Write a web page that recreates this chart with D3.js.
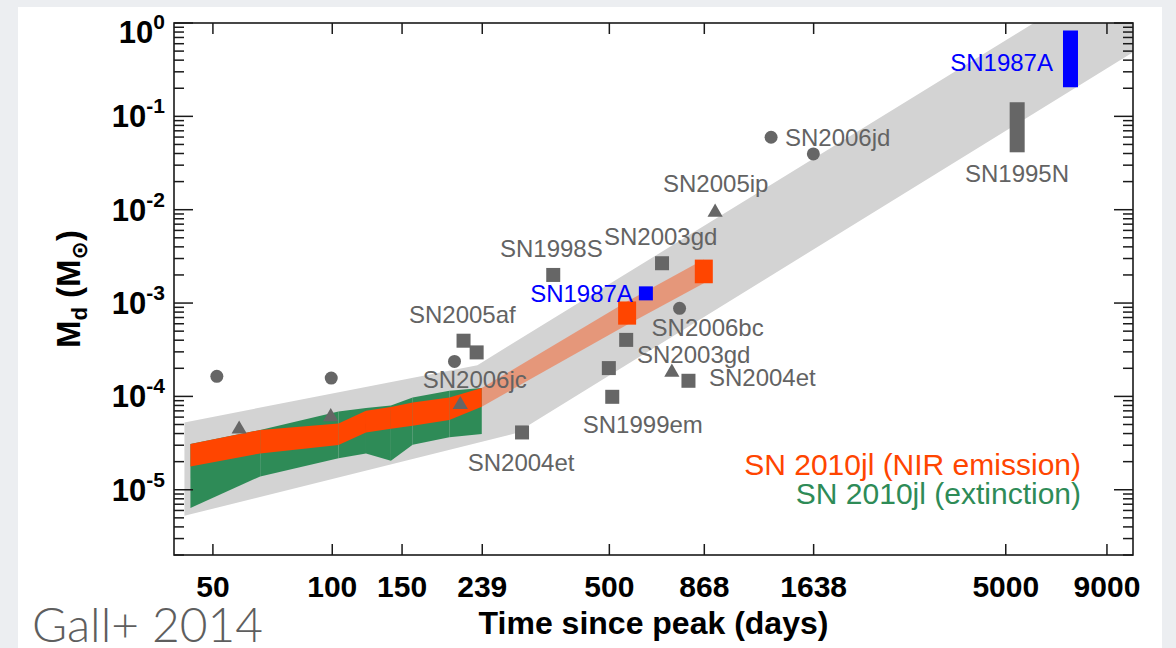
<!DOCTYPE html>
<html>
<head>
<meta charset="utf-8">
<script src="https://cdn.jsdelivr.net/npm/d3@7"></script>
<style>
  html, body { margin: 0; padding: 0; background: #eceef1; }
  svg { display: block; }
</style>
</head>
<body>
<svg id="chart" width="1176" height="648"></svg>
<script>
// ---- data ---------------------------------------------------------------
const tickDays = [50, 100, 150, 239, 500, 868, 1638, 5000, 9000];
const decadeExponents = [-5, -4, -3, -2, -1, 0];

// broad envelope of dust masses (grey band)
const envelopeUpper = [[42.5, 5.26e-5], [233, 2.16e-4], [10500, 4.5]];
const envelopeLower = [[42.5, 5.26e-6], [291, 4.03e-5], [10500, 0.486]];

// SN 2010jl early epochs (days)
const epochs   = [44, 66, 104, 122, 141, 160, 198, 239];
const nirUpper = [3.09e-5, 4.37e-5, 5.14e-5, 7.03e-5, 7.7e-5, 8.62e-5, 9.76e-5, 1.23e-4];
const nirLower = [1.77e-5, 2.45e-5, 3.01e-5, 4.11e-5, 4.5e-5, 4.85e-5, 5.58e-5, 7.76e-5];
const extUpper = [3.09e-5, 4.37e-5, 6.9e-5, 7.51e-5, 8.0e-5, 9.76e-5, 1.15e-4, 1.23e-4];
const extLower = [6.37e-6, 1.39e-5, 2.17e-5, 2.45e-5, 2.05e-5, 3.03e-5, 3.64e-5, 3.95e-5];

// SN 2010jl late NIR epochs
const lateDays  = [239, 556, 868];
const lateUpper = [1.23e-4, 1.04e-3, 2.92e-3];
const lateLower = [7.76e-5, 5.87e-4, 1.63e-3];
const lateBoxDays = [556, 868];

// other supernovae: [days, dust mass]
const circlePoints   = [[51.3, 1.64e-4], [99.7, 1.57e-4], [204, 2.37e-4], [754, 8.77e-4], [1283, 0.0597], [1640, 0.0396]];
const trianglePoints = [[58.4, 4.45e-5], [99.4, 6.05e-5], [211, 8.15e-5], [721, 1.81e-4], [927, 9.37e-3]];
const squarePoints   = [[215, 3.95e-4], [232, 2.96e-4], [302, 4.11e-5], [362, 2.0e-3], [681, 2.67e-3],
                        [553, 4.03e-4], [500, 2.01e-4], [510, 9.9e-5], [794, 1.47e-4]];
const sn1987aPoint   = [620, 1.27e-3];
// mass ranges: [days, low, high]
const sn1995nRange = [5358, 0.0412, 0.1416];
const sn1987aRange = [7303, 0.205, 0.831];

// annotations: [text, days, mass, anchor, colour]
const annotations = [
  ["SN2006jd", 1391, 0.0481, "start", "grey"],
  ["SN1995N", 3956, 0.01994, "start", "grey"],
  ["SN1987A", 6596, 0.308, "end", "blue"],
  ["SN2005ip", 685, 0.01559, "start", "grey"],
  ["SN1998S", 265.7, 3.09e-3, "start", "grey"],
  ["SN2003gd", 486, 4.19e-3, "start", "grey"],
  ["SN1987A", 575, 1.034e-3, "end", "blue"],
  ["SN2005af", 156.6, 6.16e-4, "start", "grey"],
  ["SN2006bc", 641, 4.44e-4, "start", "grey"],
  ["SN2003gd", 588.9, 2.26e-4, "start", "grey"],
  ["SN2004et", 894.5, 1.29e-4, "start", "grey"],
  ["SN2006jc", 169.6, 1.22e-4, "start", "grey"],
  ["SN1999em", 429.7, 4.02e-5, "start", "grey"],
  ["SN2004et", 220.3, 1.6e-5, "start", "grey"]
];

const legendItems = [
  ["SN 2010jl (NIR emission)", "#ff4500"],
  ["SN 2010jl (extinction)", "#2e8b57"]
];

// ---- layout -------------------------------------------------------------
const W = 1176, H = 648;
const plot = { left: 174, right: 1133, top: 23, bottom: 555 };
const svg = d3.select("#chart");
const FONT = "'Liberation Sans', Arial, Helvetica, sans-serif";
const GREY = "#666666";
const colours = { grey: "#636363", blue: "#0000ff" };

svg.append("rect").attr("x", 0).attr("y", 0).attr("width", W).attr("height", H).attr("fill", "#eceef1");
svg.append("rect").attr("x", 18).attr("y", 7).attr("width", 1144).attr("height", H - 7).attr("fill", "#ffffff");

const x = d3.scaleLog().domain([40, 10500]).range([plot.left, plot.right]);
const y = d3.scaleLog().domain([2e-6, 1]).range([plot.bottom, plot.top]);

svg.append("clipPath").attr("id", "plotClip")
  .append("rect")
  .attr("x", plot.left).attr("y", plot.top)
  .attr("width", plot.right - plot.left).attr("height", plot.bottom - plot.top);

const g = svg.append("g").attr("clip-path", "url(#plotClip)");

// grey envelope
const envelope = envelopeUpper.concat(envelopeLower.slice().reverse());
g.append("path")
  .attr("d", d3.line().x(d => x(d[0])).y(d => y(d[1]))(envelope) + "Z")
  .attr("fill", "#d3d3d3");

// banded segments between consecutive epochs
function drawSegments(days, lo, hi, fill) {
  const area = d3.area().x(d => x(d.t)).y0(d => y(d.lo)).y1(d => y(d.hi));
  for (let i = 0; i < days.length - 1; i++) {
    const seg = [
      { t: days[i], lo: lo[i], hi: hi[i] },
      { t: days[i + 1], lo: lo[i + 1], hi: hi[i + 1] }
    ];
    g.append("path").attr("d", area(seg)).attr("fill", fill);
  }
}
drawSegments(epochs, extLower, extUpper, "#2e8b57");
drawSegments(epochs, nirLower, nirUpper, "#ff4500");

// translucent late-time NIR band
const lateData = lateDays.map((t, i) => ({ t, lo: lateLower[i], hi: lateUpper[i] }));
g.append("path")
  .attr("d", d3.area().x(d => x(d.t)).y0(d => y(d.lo)).y1(d => y(d.hi))(lateData))
  .attr("fill", "#ff4500").attr("fill-opacity", 0.42);

// late NIR boxes
g.selectAll("rect.late").data(lateData.filter(d => lateBoxDays.includes(d.t)))
  .enter().append("rect")
  .attr("x", d => x(d.t) - 9).attr("width", 18)
  .attr("y", d => y(d.hi)).attr("height", d => y(d.lo) - y(d.hi))
  .attr("fill", "#ff4500");

// comparison supernovae
g.selectAll("circle.sn").data(circlePoints).enter().append("circle")
  .attr("cx", d => x(d[0])).attr("cy", d => y(d[1])).attr("r", 6.5).attr("fill", GREY);

const tri = d3.symbol().type(d3.symbolTriangle).size(100);
g.selectAll("path.tri").data(trianglePoints).enter().append("path")
  .attr("d", tri)
  .attr("transform", d => `translate(${x(d[0])},${y(d[1])})`)
  .attr("fill", GREY);

g.selectAll("rect.sq").data(squarePoints).enter().append("rect")
  .attr("x", d => x(d[0]) - 7).attr("y", d => y(d[1]) - 7)
  .attr("width", 14).attr("height", 14).attr("fill", GREY);

g.append("rect")
  .attr("x", x(sn1987aPoint[0]) - 7).attr("y", y(sn1987aPoint[1]) - 7)
  .attr("width", 14).attr("height", 14).attr("fill", "#0000ff");

function rangeBar(r, fill) {
  g.append("rect")
    .attr("x", x(r[0]) - 7.5).attr("width", 15)
    .attr("y", y(r[2])).attr("height", y(r[1]) - y(r[2]))
    .attr("fill", fill);
}
rangeBar(sn1995nRange, GREY);
rangeBar(sn1987aRange, "#0000ff");

// labels
svg.selectAll("text.ann").data(annotations).enter().append("text")
  .attr("x", d => x(d[1])).attr("y", d => y(d[2]))
  .attr("text-anchor", d => d[3])
  .attr("font-family", FONT).attr("font-size", 24)
  .attr("fill", d => colours[d[4]])
  .text(d => d[0]);

// legend
svg.selectAll("text.leg").data(legendItems).enter().append("text")
  .attr("x", plot.right - 52).attr("y", (d, i) => 475 + i * 28.5)
  .attr("text-anchor", "end")
  .attr("font-family", FONT).attr("font-size", 30)
  .attr("fill", d => d[1])
  .text(d => d[0]);

// ---- axes frame and ticks ----------------------------------------------
const AX = "#1a1a1a";
svg.append("rect")
  .attr("x", plot.left).attr("y", plot.top)
  .attr("width", plot.right - plot.left).attr("height", plot.bottom - plot.top)
  .attr("fill", "none").attr("stroke", AX).attr("stroke-width", 1.6);

const xBottom = d3.axisBottom(x).tickValues(tickDays).tickSize(-11).tickFormat(d3.format("d")).tickPadding(21);
const xTop = d3.axisTop(x).tickValues(tickDays).tickSize(-11).tickFormat("");
const gxb = svg.append("g").attr("transform", `translate(0,${plot.bottom})`).call(xBottom);
const gxt = svg.append("g").attr("transform", `translate(0,${plot.top})`).call(xTop);
[gxb, gxt].forEach(a => {
  a.select(".domain").remove();
  a.selectAll(".tick line").attr("stroke", AX).attr("stroke-width", 1.5);
});
gxb.selectAll(".tick text")
  .attr("font-family", FONT).attr("font-size", 30).attr("font-weight", "bold")
  .attr("fill", "#000");

// y ticks: majors at decades, minors at 2..9
const yMajors = decadeExponents.map(e => Math.pow(10, e));
const yMinors = [];
for (let e = -6; e < 0; e++) {
  for (let k = 2; k <= 9; k++) {
    const v = k * Math.pow(10, e);
    if (v >= 2e-6 && v < 1) yMinors.push(v);
  }
}
const gyl = svg.append("g");
const gyr = svg.append("g");
[[gyl, plot.left, 1], [gyr, plot.right, -1]].forEach(([a, x0, dir]) => {
  a.selectAll("line.major").data(yMajors).enter().append("line")
    .attr("x1", x0).attr("x2", x0 + dir * 19)
    .attr("y1", d => y(d)).attr("y2", d => y(d))
    .attr("stroke", AX).attr("stroke-width", 1.5);
  a.selectAll("line.minor").data(yMinors).enter().append("line")
    .attr("x1", x0).attr("x2", x0 + dir * 10)
    .attr("y1", d => y(d)).attr("y2", d => y(d))
    .attr("stroke", AX).attr("stroke-width", 1.5);
});

// y tick labels 10^n
const yl = svg.selectAll("text.ylab").data(decadeExponents).enter().append("text")
  .attr("x", plot.left - 9)
  .attr("y", e => y(Math.pow(10, e)) + 11 + (e === 0 ? 9 : 0))
  .attr("text-anchor", "end")
  .attr("font-family", FONT).attr("font-weight", "bold").attr("fill", "#000");
yl.append("tspan").attr("font-size", 31).text("10");
yl.append("tspan").attr("font-size", 21).attr("dy", -14).text(e => String(e));

// axis titles
svg.append("text")
  .attr("x", (plot.left + plot.right) / 2).attr("y", 634)
  .attr("text-anchor", "middle")
  .attr("font-family", FONT).attr("font-size", 32).attr("font-weight", "bold").attr("fill", "#000")
  .text("Time since peak (days)");

const ty = svg.append("text")
  .attr("transform", `translate(80,${(plot.top + plot.bottom) / 2}) rotate(-90)`)
  .attr("text-anchor", "middle")
  .attr("font-family", FONT).attr("font-size", 33).attr("font-weight", "bold").attr("fill", "#000");
ty.append("tspan").text("M");
ty.append("tspan").attr("font-size", 22).attr("dy", 7).text("d");
ty.append("tspan").attr("dy", -7).text(" (M");
ty.append("tspan").attr("font-size", 22).attr("dy", 7).attr("font-family", "'DejaVu Sans', sans-serif").text("\u2299");
ty.append("tspan").attr("dy", -7).text(")");

// citation
svg.append("text")
  .attr("x", 32).attr("y", 642)
  .attr("font-family", "Lato, 'Open Sans', sans-serif").attr("font-weight", 300)
  .attr("font-size", 48).attr("fill", "#5e5e5e")
  .attr("textLength", 231).attr("lengthAdjust", "spacingAndGlyphs")
  .text("Gall+ 2014");
</script>
</body>
</html>
